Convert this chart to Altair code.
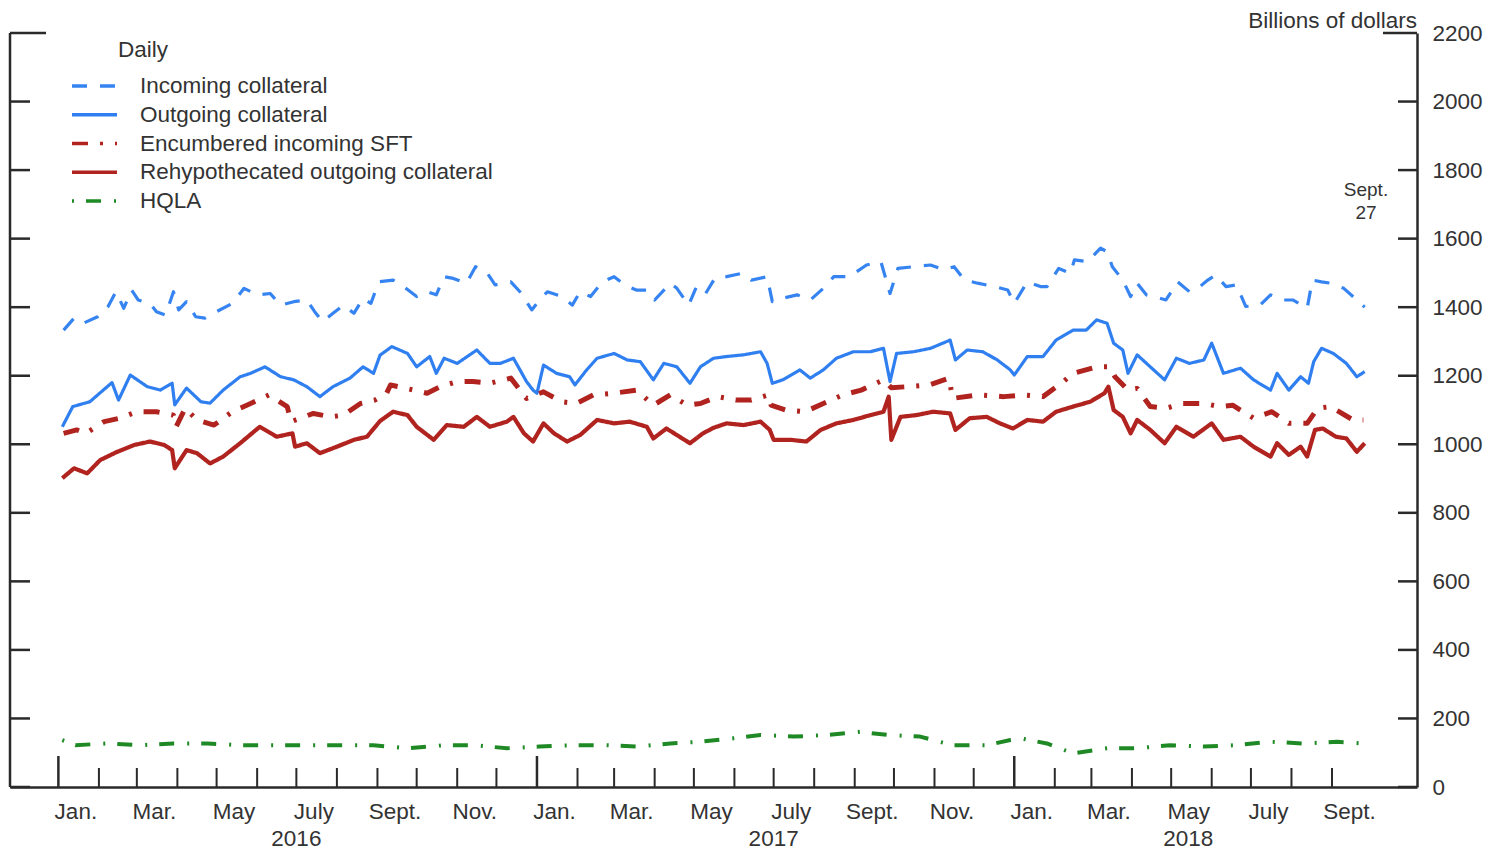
import altair as alt
import pandas as pd

START = pd.Timestamp("2016-01-01")

SERIES = ["Incoming collateral", "Outgoing collateral", "Encumbered incoming SFT",
          "Rehypothecated outgoing collateral", "HQLA"]
COLORS = ["#3684f2", "#2f7ff0", "#b0231f", "#b0231f", "#1f8a25"]
DASHES = [[15, 13], [1, 0], [16, 12, 3, 12], [1, 0], [2, 12, 15, 13]]
WIDTHS = [3.2, 3.2, 5.0, 4.2, 4.0]

# (days since 2016-01-01, billions of dollars)
incoming = [(4,1333),(12,1368),(19,1353),(30,1372),(38,1402),(44,1445),(50,1397),(56,1450),(61,1421),(70,1411),
            (75,1387),(82,1377),(88,1445),(92,1392),(98,1416),(105,1372),(112,1368),(121,1387),(133,1411),(142,1455),
            (152,1436),(162,1440),(170,1406),(180,1416),(190,1421),(196,1387),(202,1358),(210,1382),(218,1406),(226,1382),
            (233,1426),(239,1411),(245,1474),(256,1479),(264,1460),(274,1431),(282,1445),(289,1436),(295,1489),(302,1484),
            (312,1470),(319,1518),(328,1499),(334,1465),(346,1474),(353,1445),(362,1392),(368,1421),(374,1445),(385,1431),
            (393,1406),(399,1445),(407,1431),(416,1474),(425,1489),(433,1465),(442,1450),(450,1450),(456,1421),(468,1470),
            (473,1455),(482,1406),(488,1460),(495,1440),(502,1484),(511,1489),(523,1499),(530,1479),(542,1489),(546,1416),
            (554,1426),(565,1436),(575,1421),(585,1455),(593,1489),(605,1489),(618,1523),(629,1533),(636,1440),(642,1513),
            (654,1518),(667,1523),(677,1509),(685,1518),(693,1479),(703,1470),(716,1460),(726,1450),(731,1411),(741,1474),
            (751,1460),(756,1460),(765,1513),(774,1499),(777,1538),(787,1533),(797,1572),(802,1562),(806,1518),(814,1479),
            (820,1431),(825,1470),(832,1436),(838,1431),(847,1421),(856,1474),(865,1445),(873,1460),(879,1479),(885,1494),
            (893,1460),(901,1465),(908,1402),(919,1406),(927,1436),(936,1421),(944,1421),(955,1397),(959,1479),(966,1474),
            (973,1470),(983,1455),(993,1421),(999,1400)]

outgoing = [(3,1051),(11,1110),(24,1124),(41,1180),(46,1129),(55,1202),(68,1168),(78,1158),(87,1178),(89,1115),
            (98,1164),(109,1124),(116,1120),(126,1158),(139,1197),(147,1207),(158,1226),(170,1197),(180,1188),(190,1168),
            (200,1139),(210,1168),(223,1193),(233,1226),(241,1207),(246,1260),(255,1285),(267,1265),(274,1226),(284,1256),
            (289,1207),(295,1251),(305,1236),(320,1275),(330,1236),(338,1236),(348,1251),(353,1217),(358,1183),(363,1158),
            (366,1149),(371,1231),(381,1207),(391,1197),(395,1173),(404,1217),(412,1251),(425,1265),(435,1246),(445,1241),
            (455,1188),(463,1236),(473,1226),(483,1178),(491,1226),(501,1251),(511,1256),(524,1261),(537,1270),(542,1236),
            (546,1178),(554,1188),(567,1217),(575,1193),(585,1217),(595,1251),(608,1270),(621,1270),(631,1280),(636,1183),
            (641,1265),(654,1270),(667,1280),(682,1304),(686,1246),(695,1275),(707,1270),(718,1246),(728,1217),(731,1202),
            (741,1256),(753,1256),(763,1304),(776,1333),(786,1333),(794,1363),(802,1353),(807,1295),(814,1275),(818,1207),
            (825,1261),(835,1226),(846,1188),(855,1251),(865,1236),(876,1246),(882,1295),(891,1207),(904,1222),(914,1188),
            (927,1158),(932,1207),(941,1158),(950,1197),(956,1178),(960,1241),(966,1280),(975,1265),(985,1236),(993,1197),
            (999,1212)]

encumbered = [(4,1032),(14,1042),(21,1032),(35,1066),(47,1076),(60,1095),(75,1095),(88,1085),(90,1051),(97,1105),
              (106,1071),(119,1056),(133,1095),(147,1119),(161,1144),(175,1110),(178,1066),(195,1090),(208,1080),(218,1085),
              (231,1119),(242,1129),(251,1149),(254,1173),(272,1158),(282,1149),(292,1168),(305,1183),(317,1183),(330,1178),
              (346,1193),(358,1134),(371,1153),(385,1124),(396,1119),(409,1144),(425,1149),(442,1158),(455,1114),(468,1144),
              (481,1114),(491,1119),(504,1139),(518,1129),(530,1129),(543,1144),(545,1114),(556,1100),(571,1095),(585,1119),
              (600,1144),(614,1158),(631,1188),(637,1165),(649,1168),(666,1173),(681,1193),(684,1134),(703,1144),(723,1139),
              (738,1144),(753,1139),(767,1178),(776,1207),(794,1226),(804,1226),(808,1197),(818,1158),(825,1163),(835,1110),
              (847,1105),(860,1119),(876,1119),(888,1110),(898,1114),(914,1076),(928,1095),(941,1061),(955,1061),(963,1105),
              (973,1110),(990,1071),(998,1071)]

rehypothecated = [(3,901),(12,930),(22,915),(32,954),(45,978),(58,998),(70,1008),(81,998),(87,983),(89,930),
                  (98,983),(106,974),(116,944),(126,964),(139,1003),(154,1051),(167,1022),(179,1032),(181,993),(190,1003),
                  (200,974),(213,993),(226,1013),(236,1022),(246,1068),(256,1095),(267,1085),(274,1051),(287,1013),(297,1056),
                  (310,1051),(320,1080),(330,1051),(343,1066),(348,1080),(356,1032),(363,1008),(371,1061),(379,1032),(389,1008),
                  (399,1027),(412,1071),(425,1061),(437,1066),(450,1051),(455,1017),(465,1046),(475,1022),(483,1003),(493,1032),
                  (501,1048),(511,1061),(524,1056),(537,1066),(544,1042),(547,1013),(560,1013),(572,1008),(583,1042),(595,1061),
                  (608,1071),(621,1085),(631,1095),(635,1139),(637,1013),(644,1080),(656,1085),(669,1095),(682,1090),(686,1042),
                  (697,1076),(710,1080),(720,1061),(730,1046),(741,1071),(753,1066),(763,1095),(776,1110),(789,1124),(800,1149),
                  (803,1168),(807,1100),(814,1080),(820,1032),(825,1071),(835,1042),(846,1003),(855,1051),(868,1022),(882,1061),
                  (891,1013),(904,1022),(914,993),(927,964),(932,1003),(941,969),(950,993),(955,964),(961,1042),(967,1046),
                  (977,1022),(985,1017),(993,978),(999,1003)]

hqla = [(3,137),(13,122),(37,127),(63,122),(88,127),(114,127),(139,122),(165,122),(190,122),(216,122),
        (241,122),(267,113),(295,122),(318,122),(343,113),(368,118),(394,122),(419,122),(442,118),(468,127),
        (491,132),(516,142),(537,152),(562,147),(588,152),(613,161),(634,152),(659,147),(684,122),(710,122),
        (728,137),(736,142),(756,127),(776,98),(802,113),(825,113),(850,122),(876,118),(901,122),(927,132),
        (952,127),(978,132),(998,127)]

Y_TICKS = list(range(0, 2201, 200))
MONTH_TICKS = list(pd.date_range("2016-01-01", "2018-09-01", freq="MS"))
LABEL_DATES = [(2016, m) for m in (1, 3, 5, 7, 9, 11)] + [(2017, m) for m in (1, 3, 5, 7, 9, 11)] + \
              [(2018, m) for m in (1, 3, 5, 7, 9)]
MONTH_NAMES = "['Jan.','Feb.','Mar.','Apr.','May','June','July','Aug.','Sept.','Oct.','Nov.','Dec.']"
YEAR_LABELS = ["2016", "2017", "2018"]
YEAR_DATES = ["2016-07-01", "2017-07-01", "2018-05-14"]
ANNOT_TEXT = "Sept.\n27"
ANNOT_DATE = "2018-09-27"
ANNOT_VALUE = 1768

W, H = 1407, 754
FONT = "Liberation Sans"
FS = 22.5
TXT = "#333333"
FRAME = "#2a2a2a"
LEG_X, LEG_Y0, LEG_DY = 62, 53, 28.75

frames = []
for name, pts in zip(SERIES, [incoming, outgoing, encumbered, rehypothecated, hqla]):
    frames.append(pd.DataFrame({
        "series": name,
        "date": [START + pd.Timedelta(days=d) for d, _ in pts],
        "value": [v for _, v in pts],
    }))
df = pd.concat(frames, ignore_index=True)

x_scale = alt.Scale(domain=[alt.DateTime(year=2015, month=11, date=25),
                            alt.DateTime(year=2018, month=11, date=5)])
y_scale = alt.Scale(domain=[0, 2200], nice=False, zero=False)

x_axis = alt.Axis(title=None, grid=False, ticks=False, domain=True, domainColor=FRAME, domainWidth=2.5,
                  values=[alt.DateTime(year=y, month=m, date=14) for y, m in LABEL_DATES],
                  labelExpr=MONTH_NAMES + "[month(datum.value)]",
                  labelFontSize=FS, labelColor=TXT, labelFont=FONT, labelPadding=13, labelFlush=False,
                  labelOverlap=False)
y_axis = alt.Axis(title=None, orient="right", grid=False, ticks=False, domain=True, domainColor=FRAME,
                  domainWidth=2.5, values=Y_TICKS, format="d", labelFontSize=FS, labelColor=TXT, labelFont=FONT,
                  labelPadding=15, labelFlush=False)

xv = alt.X("date:T", scale=x_scale, axis=x_axis)
yv = alt.Y("value:Q", scale=y_scale, axis=y_axis)

base = alt.Chart(df).encode(
    x=xv,
    y=yv,
    color=alt.Color("series:N", scale=alt.Scale(domain=SERIES, range=COLORS), legend=None),
    strokeDash=alt.StrokeDash("series:N", scale=alt.Scale(domain=SERIES, range=DASHES), legend=None),
)
line_layers = [
    base.transform_filter(alt.datum.series == name).mark_line(strokeWidth=w, strokeJoin="round")
    for name, w in zip(SERIES, WIDTHS)
]

# legend (drawn as a key block in the top-left corner)
legend_layers = []
for i, name in enumerate(SERIES):
    one = pd.DataFrame({"series": [name]})
    ly = LEG_Y0 + LEG_DY * i
    legend_layers.append(alt.Chart(one).mark_rule(color=COLORS[i], strokeDash=DASHES[i], strokeWidth=3.5).encode(
        x=alt.value(LEG_X), x2=alt.value(LEG_X + 45), y=alt.value(ly)))
    legend_layers.append(alt.Chart(one).mark_text(fontSize=FS, font=FONT, color=TXT, align="left",
                                                  baseline="middle").encode(
        x=alt.value(LEG_X + 68), y=alt.value(ly), text="series:N"))

daily = alt.Chart(pd.DataFrame({"t": ["Daily"]})).mark_text(
    fontSize=FS, font=FONT, color=TXT, align="left", baseline="middle").encode(
    x=alt.value(108), y=alt.value(17), text="t:N")

# frame: left border
left_border = alt.Chart(pd.DataFrame({"k": [0]})).mark_rule(color=FRAME, strokeWidth=2.5).encode(
    x=alt.value(0), y=alt.value(0), y2=alt.value(H))

# inward tick marks on both value axes
ytick_df = pd.DataFrame({"value": Y_TICKS, "top": [v == 2200 for v in Y_TICKS]})
y_norm = ytick_df[~ytick_df["top"]]
y_top = ytick_df[ytick_df["top"]]
ytick_left = alt.Chart(y_norm).mark_rule(color=FRAME, strokeWidth=2.5).encode(
    y=yv, x=alt.value(0), x2=alt.value(20))
ytick_right = alt.Chart(y_norm).mark_rule(color=FRAME, strokeWidth=2.5).encode(
    y=yv, x=alt.value(W - 19), x2=alt.value(W))
ytop_left = alt.Chart(y_top).mark_rule(color=FRAME, strokeWidth=2.5).encode(
    y=yv, x=alt.value(0), x2=alt.value(36))
ytop_right = alt.Chart(y_top).mark_rule(color=FRAME, strokeWidth=2.5).encode(
    y=yv, x=alt.value(W - 34), x2=alt.value(W))

# inward month ticks
mt = pd.DataFrame({"date": MONTH_TICKS})
mt["jan"] = [d.month == 1 for d in MONTH_TICKS]
mtick = alt.Chart(mt[~mt["jan"]]).mark_rule(color=FRAME, strokeWidth=2).encode(
    x=xv, y=alt.value(H), y2=alt.value(H - 19))
jtick = alt.Chart(mt[mt["jan"]]).mark_rule(color=FRAME, strokeWidth=2.5).encode(
    x=xv, y=alt.value(H), y2=alt.value(H - 31))

years = alt.Chart(pd.DataFrame({"date": pd.to_datetime(YEAR_DATES), "label": YEAR_LABELS})).mark_text(
    fontSize=FS, font=FONT, color=TXT, baseline="middle", align="center").encode(
    x=xv, y=alt.value(H + 52), text="label:N")

units = alt.Chart(pd.DataFrame({"t": ["Billions of dollars"]})).mark_text(
    fontSize=FS, font=FONT, color=TXT, align="right", baseline="middle").encode(
    x=alt.value(W), y=alt.value(-12), text="t:N")

annot = alt.Chart(pd.DataFrame({"date": [pd.Timestamp(ANNOT_DATE)], "value": [ANNOT_VALUE],
                                "t": [ANNOT_TEXT]})).mark_text(
    fontSize=19, font=FONT, color=TXT, align="center", baseline="top", lineBreak="\n", lineHeight=23).encode(
    x=xv, y=yv, text="t:N")

chart = alt.layer(
    *line_layers, left_border, ytick_left, ytick_right, ytop_left, ytop_right, mtick, jtick,
    years, units, daily, annot, *legend_layers
).properties(
    width=W, height=H,
    autosize=alt.AutoSizeParams(type="none"),
    padding={"left": 2, "top": 25, "right": 76, "bottom": 64},
).configure(font=FONT).configure_view(stroke=None)

chart.save("out.html", embed_options={"renderer": "svg", "actions": False})
